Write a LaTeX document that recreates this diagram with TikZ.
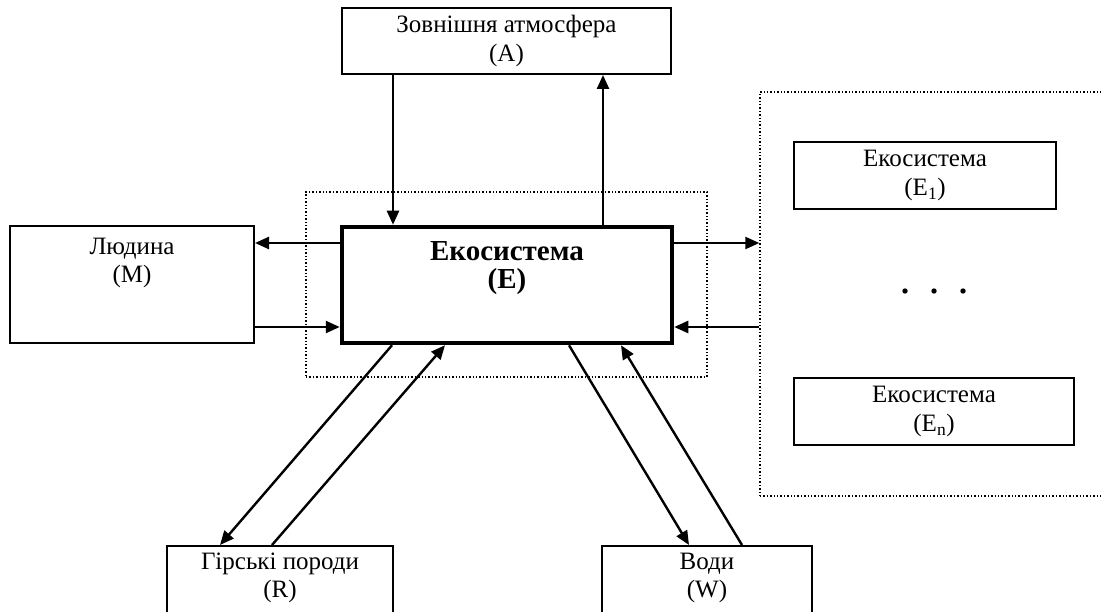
\documentclass[tikz,border=0pt]{standalone}
\usepackage{fontspec}
\setmainfont{Liberation Serif}
\usetikzlibrary{positioning, calc, arrows.meta}

\tikzset{
  box/.style={draw, line width=2pt, rectangle, align=center, inner sep=0pt},
  mainbox/.style={draw, line width=4.5pt, rectangle, inner sep=0pt},
  group/.style={draw, dotted, line width=1.4pt, rectangle, inner sep=0pt},
  txt/.style={align=center, inner sep=0pt},
  flow/.style={line width=2.4pt, -{Triangle[length=14pt,width=12pt]}}
}

\begin{document}
\begin{tikzpicture}[x=1pt, y=-1pt, font=\fontsize{25}{28.5}\selectfont]
\clip (0,0) rectangle (1101,612);

% dotted groups
\node[group, minimum width=401, minimum height=185] (core) at (506.5,284.5) {};
\node[group, minimum width=370, minimum height=404] (eco) at (945,294) {};

% boxes
\node[box, minimum width=329, minimum height=66] (a) at (506.5,41) {Зовнішня атмосфера\\(A)};
\node[mainbox, minimum width=330, minimum height=116] (e) at (507,285) {};
\node[box, minimum width=244, minimum height=117] (m) at (132,284.5) {};
\node[box, minimum width=226, minimum height=120] (r) at (280,606) {};
\node[box, minimum width=210, minimum height=120] (w) at (707,606) {};
\node[box, minimum width=262, minimum height=67] (e1) at (925,175.5) {Екосистема\\(E\textsubscript{1})};
\node[box, minimum width=280, minimum height=67] (en) at (934,411.5) {Екосистема\\(E\textsubscript{n})};

% labels in the upper part of the boxes
\node[txt, font=\fontsize{29}{28.5}\selectfont\bfseries] (et) at (507,268) {Екосистема\\(E)};
\node[txt] (mt) at (132,263) {Людина\\(M)};
\node[txt] (rt) at (280,578) {Гірські породи\\(R)};
\node[txt] (wt) at (707,578) {Води\\(W)};

\foreach \x in {905,934,963}
  \fill (\x,291) circle (2.7pt);

% atmosphere
\coordinate (ad) at (393,0);
\coordinate (au) at (603,0);
\draw[flow] (a.south -| ad) -- (e.north -| ad);
\draw[flow] (e.north -| au) -- (a.south -| au);

% man and other ecosystems
\coordinate (hout) at (0,243);
\coordinate (hin) at (0,327);
\draw[flow] (e.west |- hout) -- (m.east |- hout);
\draw[flow] (m.east |- hin) -- (e.west |- hin);
\draw[flow] (e.east |- hout) -- (eco.west |- hout);
\draw[flow] (eco.west |- hin) -- (e.east |- hin);

% rocks and waters
\coordinate (r1) at (392,0);  \coordinate (r2) at (220,0);
\coordinate (r3) at (272,0);  \coordinate (r4) at (445,0);
\coordinate (w1) at (569,0);  \coordinate (w2) at (689,0);
\coordinate (w3) at (742,0);  \coordinate (w4) at (621,0);
\draw[flow] (e.south -| r1) -- (r.north -| r2);
\draw[flow] (r.north -| r3) -- (e.south -| r4);
\draw[flow] (e.south -| w1) -- (w.north -| w2);
\draw[flow] (w.north -| w3) -- (e.south -| w4);
\end{tikzpicture}
\end{document}
